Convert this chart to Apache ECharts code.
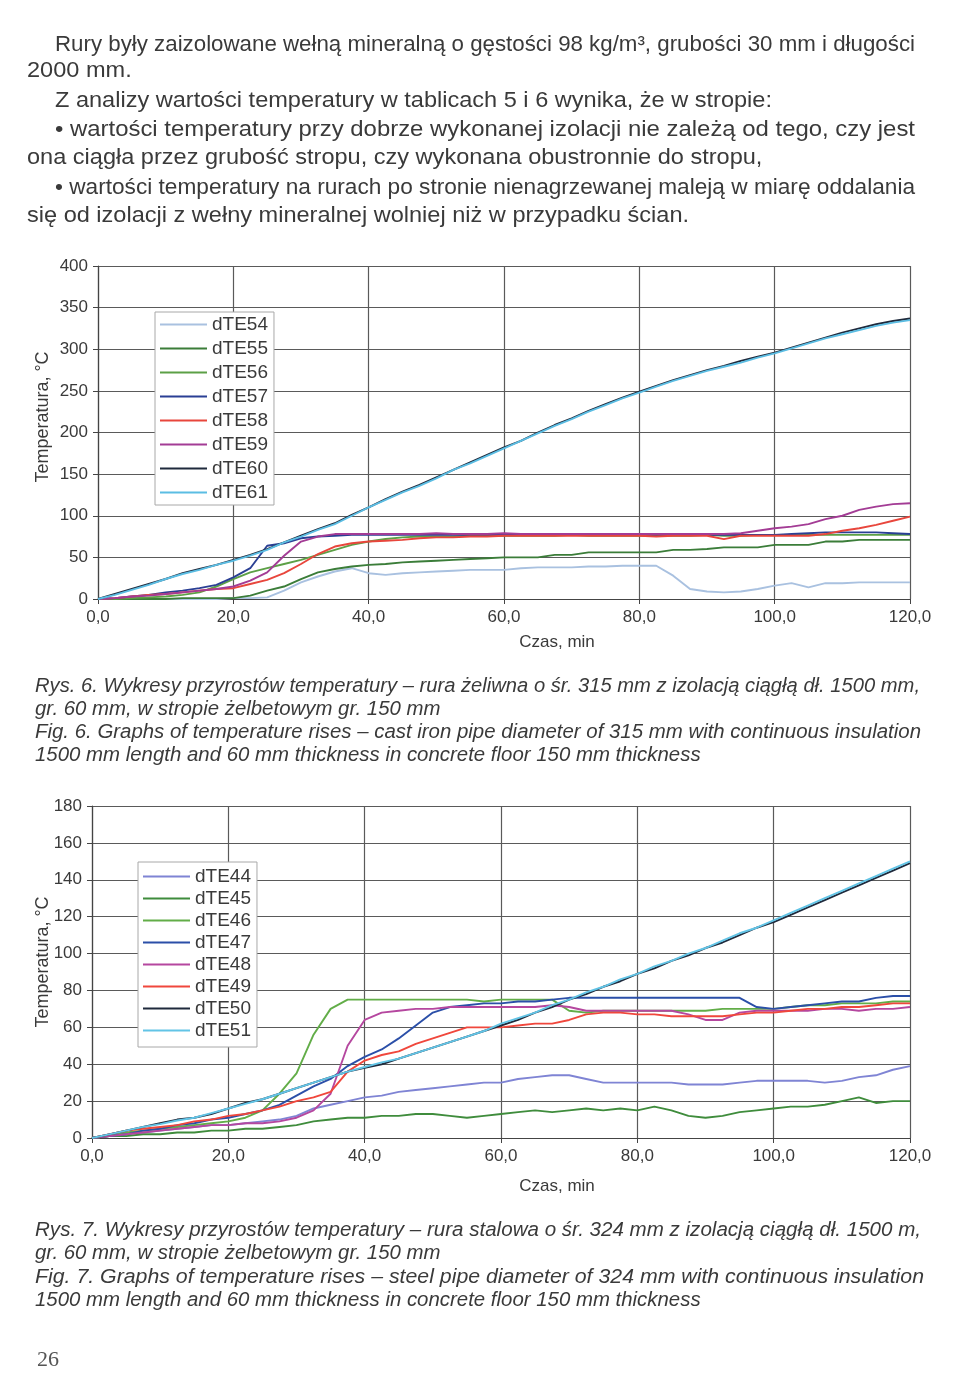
<!DOCTYPE html>
<html>
<head>
<meta charset="utf-8">
<script src="https://cdn.jsdelivr.net/npm/echarts@6/dist/echarts.min.js"></script>
<style>html,body{margin:0;padding:0;background:#fff}#c{width:960px;height:1390px}</style>
</head>
<body>
<div id="c"></div>
<script>
// ---------- DATA ----------
const time = [0,2.5,5,7.5,10,12.5,15,17.5,20,22.5,25,27.5,30,32.5,35,37.5,40,42.5,45,47.5,50,52.5,55,57.5,60,62.5,65,67.5,70,72.5,75,77.5,80,82.5,85,87.5,90,92.5,95,97.5,100,102.5,105,107.5,110,112.5,115,117.5,120];

// Fig. 6
const names1 = ['dTE54','dTE55','dTE56','dTE57','dTE58','dTE59','dTE60','dTE61'];
const dTE54 = [0,0,0,0,0,0,0,0,1,1, 2,10,20,27,33,37,31,29,31,32, 33,34,35,35,35,37,38,38,38,39, 39,40,40,40,28,12,9,8,9,12, 16,19,14,19,19,20,20,20,20];
const dTE55 = [0,0,0,0,0,1,1,1,1,4, 10,15,24,32,36,39,41,42,44,45, 46,47,48,49,50,50,50,53,53,56, 56,56,56,56,59,59,60,62,62,62, 65,65,65,69,69,71,71,71,71];
const dTE56 = [0,0,1,2,3,5,8,15,24,32, 37,42,47,53,59,65,69,72,74,75, 75,75,76,76,76,76,76,76,77,76, 76,76,76,76,76,76,77,76,76,77, 77,77,77,77,77,77,77,77,77];
const dTE57 = [0,1,3,5,8,10,13,17,26,37, 64,67,73,75,76,77,77,77,77,77, 77,77,77,77,77,77,77,77,77,77, 77,77,77,77,77,77,77,77,77,77, 77,78,79,80,80,80,80,79,78];
const dTE58 = [0,1,3,5,6,8,10,12,13,18, 23,31,42,54,63,67,69,70,71,73, 74,74,75,75,76,76,76,76,76,76, 76,76,76,75,76,76,76,72,76,76, 76,76,76,78,82,85,89,94,99];
const dTE59 = [0,1,3,4,6,8,10,12,15,22, 32,52,69,75,78,78,78,78,78,78, 79,78,78,78,79,78,78,78,78,78, 78,78,78,78,78,78,78,78,79,82, 85,87,90,96,100,107,111,114,115];
const dTE60 = [0,6,12,18,24,31,36,41,47,53, 60,68,76,84,91,101,110,120,129,137, 146,155,164,173,182,190,200,209,217,226, 234,242,249,256,263,269,275,280,286,291, 296,302,308,314,320,325,330,334,337];
const dTE61 = [0,5,11,17,24,30,35,41,46,52, 59,68,75,83,90,100,110,119,128,136, 145,155,163,172,181,190,199,208,216,225, 233,241,248,255,262,268,274,279,284,290, 295,301,307,313,318,323,328,332,335];

// Fig. 7
const names2 = ['dTE44','dTE45','dTE46','dTE47','dTE48','dTE49','dTE50','dTE51'];
const dTE44 = [0,1,2,3,4,5,6,7,7,8, 9,10,12,16,18,20,22,23,25,26, 27,28,29,30,30,32,33,34,34,32, 30,30,30,30,30,29,29,29,30,31, 31,31,31,30,31,33,34,37,39];
const dTE45 = [0,1,1,2,2,3,3,4,4,5, 5,6,7,9,10,11,11,12,12,13, 13,12,11,12,13,14,15,14,15,16, 15,16,15,17,15,12,11,12,14,15, 16,17,17,18,20,22,19,20,20];
const dTE46 = [0,1,3,4,5,6,7,8,9,11, 15,24,35,56,70,75,75,75,75,75, 75,75,75,74,75,75,75,75,69,68, 69,69,69,69,69,69,69,70,70,70, 70,71,72,72,73,73,73,74,74];
const dTE47 = [0,1,2,4,5,7,8,10,11,13, 15,18,23,28,32,39,44,48,54,61, 68,71,72,73,73,74,74,75,76,76, 76,76,76,76,76,76,76,76,76,71, 70,71,72,73,74,74,76,77,77];
const dTE48 = [0,1,2,3,4,5,6,7,7,8, 8,9,11,15,24,50,64,68,69,70, 70,71,71,71,71,71,71,72,71,69, 69,69,69,69,69,67,64,64,68,69, 69,69,69,70,70,69,70,70,71];
const dTE49 = [0,2,4,5,6,7,9,10,12,13, 15,17,20,22,25,36,42,45,47,51, 54,57,60,60,60,61,62,62,64,67, 68,68,67,67,66,66,66,66,67,68, 68,69,70,70,71,71,72,73,73];
const dTE50 = [0,2,4,6,8,10,11,13,16,19, 21,24,27,30,33,36,38,40,43,46, 49,52,55,58,61,64,68,71,75,78, 82,85,89,92,96,99,103,106,110,114, 117,121,125,129,133,137,141,145,149];
const dTE51 = [0,2,4,6,7.5,9.5,11,13.5,16,18.5, 21,24,27,30,33,36,38.5,41,43,46, 49,52,55,58,62,65,68,72,75,79, 82,86,89,93,96,100,103,107,111,114, 118,122,126,130,134,138,142,146,150];

const values1 = [dTE54,dTE55,dTE56,dTE57,dTE58,dTE59,dTE60,dTE61];
const values2 = [dTE44,dTE45,dTE46,dTE47,dTE48,dTE49,dTE50,dTE51];

const xTicks = {min:0, max:120, interval:20};
const yTicks1 = {min:0, max:400, interval:50};
const yTicks2 = {min:0, max:180, interval:20};

// ---------- STYLE ----------
const colors1 = ['#a9c1e0','#3b7d39','#5ca046','#2a3f94','#e8463c','#a33c95','#1f2a3c','#5bbde3'];
const colors2 = ['#7f84d4','#3f8c3c','#62ad48','#2b4fa8','#b5479f','#f0473c','#1f2a3c','#62c4e6'];
const FONT = '"Liberation Sans", Arial, sans-serif';
const TXT = '#3a3a3a';

function mkSeries(names, vals, colors, idx) {
  return names.map((n, k) => ({
    name: n, type: 'line', xAxisIndex: idx, yAxisIndex: idx,
    data: time.map((t, i) => [t, vals[k][i]]),
    symbol: 'none', animation: false,
    lineStyle: {width: 1.9, color: colors[k]}, itemStyle: {color: colors[k]}
  }));
}
function mkX(idx) {
  return {
    type: 'value', gridIndex: idx, min: xTicks.min, max: xTicks.max, interval: xTicks.interval,
    axisLine: {show: true, lineStyle: {color: '#444', width: 1.2}},
    axisTick: {show: true, length: 5, lineStyle: {color: '#444'}},
    axisLabel: {fontSize: 17, color: '#3a3a3a', fontFamily: FONT, margin: 10,
      formatter: v => v.toFixed(1).replace('.', ',')},
    splitLine: {show: true, lineStyle: {color: '#5a5a5a', width: 1.2}}
  };
}
function mkY(idx, tk) {
  return {
    type: 'value', gridIndex: idx, min: tk.min, max: tk.max, interval: tk.interval,
    axisLine: {show: true, lineStyle: {color: '#444', width: 1.2}},
    axisTick: {show: true, length: 5, lineStyle: {color: '#444'}},
    axisLabel: {fontSize: 17, color: '#3a3a3a', fontFamily: FONT, margin: 10},
    splitLine: {show: true, lineStyle: {color: '#5a5a5a', width: 1.2}}
  };
}
function mkLegend(names, left, top, pad, gap) {
  return {
    data: names, orient: 'vertical', left: left, top: top,
    backgroundColor: '#fff', borderColor: '#a8a8a8', borderWidth: 1,
    padding: pad, itemGap: gap, itemWidth: 47, itemHeight: 2,
    icon: 'rect',
    textStyle: {fontSize: 19, color: '#3a3a3a', fontFamily: FONT, lineHeight: 17},
    selectedMode: false
  };
}

// text measuring (for fitting justified lines of the page)
const mctx = document.createElement('canvas').getContext('2d');
function measure(s, size, italic) {
  mctx.font = (italic ? 'italic ' : '') + size + 'px ' + FONT;
  return mctx.measureText(s).width;
}
function txtLine(x, y, s, size, italic, rightEdge, baseScale) {
  let sx = baseScale;
  if (rightEdge) sx = (rightEdge - x) / measure(s, size, italic);
  return {
    type: 'text', x: x, y: y, scaleX: sx, scaleY: 1, originX: 0, originY: 0, silent: true,
    style: {text: s, fontSize: size, fontFamily: FONT, fontStyle: italic ? 'italic' : 'normal',
      fill: TXT, textVerticalAlign: 'middle', verticalAlign: 'middle'}
  };
}
function txt(x, y, s, size, extra) {
  return Object.assign({
    type: 'text', x: x, y: y, silent: true,
    style: Object.assign({text: s, fontSize: size, fontFamily: FONT, fill: TXT,
      textVerticalAlign: 'middle', verticalAlign: 'middle'}, extra && extra.style || {})
  }, extra && extra.el || {});
}

// [x, y, text, justified right edge or 0]
const body = [
  [55, 45, 'Rury były zaizolowane wełną mineralną o gęstości 98 kg/m³, grubości 30 mm i długości', 915],
  [27, 71, '2000 mm.', 0],
  [55, 101, 'Z analizy wartości temperatury w tablicach 5 i 6 wynika, że w stropie:', 0],
  [55, 130, '• wartości temperatury przy dobrze wykonanej izolacji nie zależą od tego, czy jest', 915],
  [27, 158, 'ona ciągła przez grubość stropu, czy wykonana obustronnie do stropu,', 0],
  [55, 188, '• wartości temperatury na rurach po stronie nienagrzewanej maleją w miarę oddalania', 915],
  [27, 216, 'się od izolacji z wełny mineralnej wolniej niż w przypadku ścian.', 0]
];
const captions = [
  [35, 686, 'Rys. 6. Wykresy przyrostów temperatury – rura żeliwna o śr. 315 mm z izolacją ciągłą dł. 1500 mm,', 920],
  [35, 709, 'gr. 60 mm, w stropie żelbetowym gr. 150 mm', 0],
  [35, 732, 'Fig. 6. Graphs of temperature rises – cast iron pipe diameter of 315 mm with continuous insulation', 921],
  [35, 755, '1500 mm length and 60 mm thickness in concrete floor 150 mm thickness', 0],
  [35, 1230, 'Rys. 7. Wykresy przyrostów temperatury – rura stalowa o śr. 324 mm z izolacją ciągłą dł. 1500 m,', 921],
  [35, 1253, 'gr. 60 mm, w stropie żelbetowym gr. 150 mm', 0],
  [35, 1277, 'Fig. 7. Graphs of temperature rises – steel pipe diameter of 324 mm with continuous insulation', 924],
  [35, 1300, '1500 mm length and 60 mm thickness in concrete floor 150 mm thickness', 0]
];

const graphics = [];
body.forEach(b => graphics.push(txtLine(b[0], b[1], b[2], 22, false, b[3], 1.07)));
captions.forEach(c => graphics.push(txtLine(c[0], c[1], c[2], 20, true, c[3], 1.02)));
graphics.push(txt(557, 642, 'Czas, min', 17, {style: {textAlign: 'center', align: 'center'}}));
graphics.push(txt(557, 1186, 'Czas, min', 17, {style: {textAlign: 'center', align: 'center'}}));
graphics.push(txt(43, 417, 'Temperatura, °C', 18, {style: {textAlign: 'center', align: 'center'}, el: {rotation: Math.PI / 2}}));
graphics.push(txt(43, 962, 'Temperatura, °C', 18, {style: {textAlign: 'center', align: 'center'}, el: {rotation: Math.PI / 2}}));
graphics.push(txt(37, 1360, '26', 22, {style: {fontFamily: '"Liberation Serif", "DejaVu Serif", serif', fill: '#555'}}));

const chart = echarts.init(document.getElementById('c'), null, {renderer: 'canvas'});
chart.setOption({
  animation: false,
  backgroundColor: '#fff',
  grid: [
    {left: 98, top: 266, width: 812, height: 333},
    {left: 92, top: 806, width: 818, height: 332}
  ],
  xAxis: [mkX(0), mkX(1)],
  yAxis: [mkY(0, yTicks1), mkY(1, yTicks2)],
  legend: [
    mkLegend(names1, 155, 312, [3, 6, 3, 5], 5),
    mkLegend(names2, 138, 862, [5, 6, 7, 5], 3)
  ],
  series: mkSeries(names1, values1, colors1, 0).concat(mkSeries(names2, values2, colors2, 1)),
  graphic: graphics
});
</script>
</body>
</html>
